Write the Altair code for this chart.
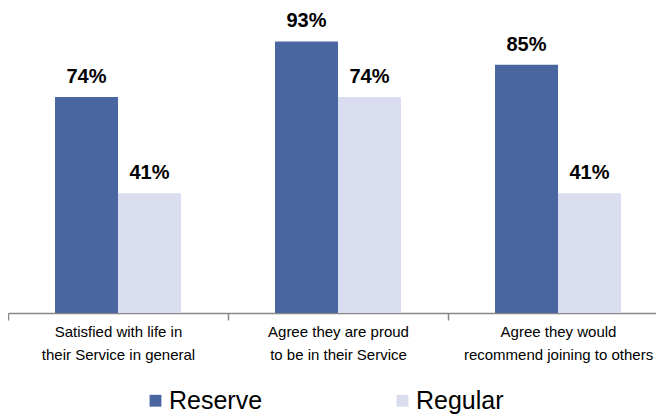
import altair as alt
import pandas as pd

categories = [
    "Satisfied with life in|their Service in general",
    "Agree they are proud|to be in their Service",
    "Agree they would|recommend joining to others",
]
series = ["Reserve", "Regular"]
reserve = [74, 93, 85]
regular = [41, 74, 41]
colors = ["#4A66A0", "#DADDEF"]

rows = []
for c, a, b in zip(categories, reserve, regular):
    rows.append({"category": c, "series": "Reserve", "value": a})
    rows.append({"category": c, "series": "Regular", "value": b})
df = pd.DataFrame(rows)

FONT = "Liberation Sans"

base = alt.Chart(df).encode(
    x=alt.X(
        "category:N",
        sort=categories,
        scale=alt.Scale(range=[0, 660], paddingInner=0.4273, paddingOuter=0.2136),
        axis=alt.Axis(
            title=None,
            labelExpr="split(datum.label, '|')",
            labelFont=FONT,
            labelFontSize=15,
            labelColor="#000000",
            labelAngle=0,
            labelLimit=0,
            labelLineHeight=23,
            labelPadding=4,
            labelOffset=110,
            ticks=True,
            tickOffset=-110,
            tickSize=7,
            tickColor="#888888",
            domainColor="#888888",
            domainWidth=1.5,
            tickWidth=1.5,
        ),
    ),
    xOffset=alt.XOffset("series:N", sort=series, scale=alt.Scale(paddingInner=0, paddingOuter=0)),
    y=alt.Y("value:Q", scale=alt.Scale(domain=[0, 100]), axis=None),
)

bars = base.mark_bar().encode(
    color=alt.Color(
        "series:N",
        sort=series,
        scale=alt.Scale(domain=series, range=colors),
        legend=alt.Legend(
            title=None,
            orient="none",
            direction="horizontal",
            legendX=135,
            legendY=367,
            symbolType="square",
            symbolSize=140,
            symbolStrokeWidth=0,
            symbolOpacity=1,
            labelFont=FONT,
            labelFontSize=25,
            labelColor="#000000",
            labelOffset=1,
            columnPadding=127,
        ),
    )
)

labels = base.transform_calculate(label="datum.value + '%'").mark_text(
    font=FONT, fontSize=20, fontWeight="bold", color="#000000", dy=-14, baseline="alphabetic"
).encode(text="label:N")

chart = (
    alt.layer(bars, labels)
    .properties(
        width=648,
        height=292,
        autosize=alt.AutoSizeParams(type="none"),
        padding={"left": 0, "top": 13, "right": 0, "bottom": 101},
    )
    .configure_view(strokeWidth=0)
)

chart.save("out.html", embed_options={"renderer": "svg", "actions": False})
